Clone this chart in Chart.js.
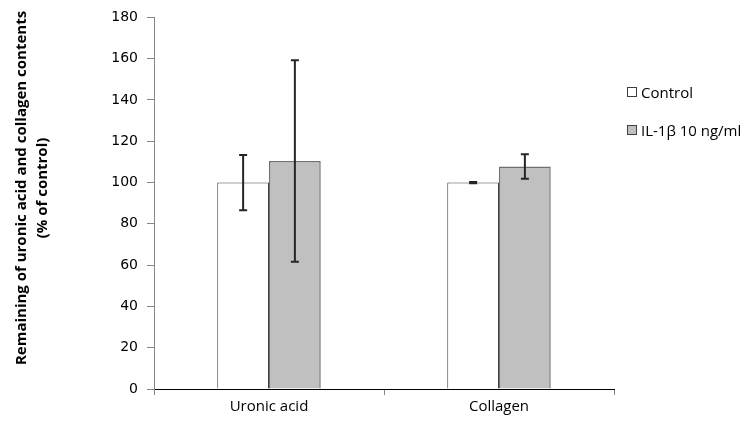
<!DOCTYPE html>
<html>
<head>
<meta charset="utf-8">
<script src="https://cdn.jsdelivr.net/npm/chart.js@4.4.1/dist/chart.umd.min.js"></script>
<style>
  body { margin: 0; background: #fff; }
  #wrap { position: relative; width: 753px; height: 421px; }
  #legend { position: absolute; left: 627px; top: 82px; font: 15px "Open Sans", sans-serif; color: #000; }
  #legend .item { display: flex; align-items: center; height: 20px; margin-bottom: 18px; white-space: nowrap; }
  #legend .box { width: 8px; height: 8px; margin-right: 4px; }
</style>
</head>
<body>
<div id="wrap">
  <canvas id="chart" width="753" height="421"></canvas>
  <div id="legend"></div>
</div>
<script>
const categories = ["Uronic acid", "Collagen"];
const controlValues = [100, 100];
const controlErrors = [13.4, 0.3];
const il1bValues = [110.4, 107.8];
const il1bErrors = [48.8, 5.9];
const yTicks = [0, 20, 40, 60, 80, 100, 120, 140, 160, 180];

const yTitleLines = ["Remaining of uronic acid and collagen contents", "(% of control)"];

// error bars drawn from the value +/- error through the y scale
const errorBars = {
  id: "errorBars",
  afterDatasetsDraw(chart) {
    const ctx = chart.ctx;
    const yScale = chart.scales.y;
    ctx.save();
    ctx.strokeStyle = "#262626";
    ctx.lineWidth = 2;
    chart.data.datasets.forEach((ds, i) => {
      const meta = chart.getDatasetMeta(i);
      meta.data.forEach((bar, j) => {
        const top = yScale.getPixelForValue(ds.data[j] + ds.errors[j]);
        const bot = yScale.getPixelForValue(ds.data[j] - ds.errors[j]);
        const x = bar.x;
        ctx.beginPath();
        ctx.moveTo(x, top);
        ctx.lineTo(x, bot);
        ctx.moveTo(x - 4, top);
        ctx.lineTo(x + 4, top);
        ctx.moveTo(x - 4, bot);
        ctx.lineTo(x + 4, bot);
        ctx.stroke();
      });
    });
    ctx.restore();
  }
};

// two-line rotated y title
const yTitle = {
  id: "yTitle",
  afterDraw(chart) {
    const ctx = chart.ctx;
    ctx.save();
    ctx.translate(22, 188);
    ctx.rotate(-Math.PI / 2);
    ctx.font = 'bold 15px "Open Sans"';
    ctx.fillStyle = "#000";
    ctx.textAlign = "center";
    ctx.textBaseline = "middle";
    ctx.fillText(yTitleLines[0], 0, 0);
    ctx.fillText(yTitleLines[1], 0, 21);
    ctx.restore();
  }
};

const chart = new Chart(document.getElementById("chart"), {
  type: "bar",
  data: {
    labels: categories,
    datasets: [
      {
        label: "Control",
        data: controlValues,
        errors: controlErrors,
        backgroundColor: "#ffffff",
        borderColor: "#404040",
        borderWidth: 1,
      },
      {
        label: "IL-1β 10 ng/ml",
        data: il1bValues,
        errors: il1bErrors,
        backgroundColor: "#c0c0c0",
        borderColor: "#707070",
        borderWidth: 1.5,
      },
    ],
  },
  options: {
    responsive: false,
    animation: false,
    layout: { padding: { top: 17, right: 139, left: 0, bottom: 0 } },
    datasets: { bar: { categoryPercentage: 0.45, barPercentage: 1 } },
    plugins: {
      legend: { display: false },
      tooltip: { enabled: false },
    },
    scales: {
      x: {
        grid: { drawOnChartArea: false, tickLength: 6, color: "#868686" },
        border: { color: "#000000", width: 1 },
        ticks: { color: "#000", padding: 3, font: { family: "Open Sans", size: 15 } },
        afterFit: (scale) => { scale.height = 32; },
      },
      y: {
        min: 0,
        max: 180,
        grid: { drawOnChartArea: false, tickLength: 7, color: "#868686" },
        border: { color: "#868686", width: 1 },
        afterBuildTicks: (scale) => { scale.ticks = yTicks.map((v) => ({ value: v })); },
        ticks: { color: "#000", padding: 9, font: { family: "DejaVu Sans", size: 14 } },
        afterFit: (scale) => { scale.width = 154; },
      },
    },
  },
  plugins: [errorBars, yTitle],
});

// html legend from the datasets
const legendEl = document.getElementById("legend");
chart.data.datasets.forEach((ds) => {
  const item = document.createElement("div");
  item.className = "item";
  const box = document.createElement("span");
  box.className = "box";
  box.style.background = ds.backgroundColor;
  box.style.border = "1px solid #404040";
  const txt = document.createElement("span");
  txt.textContent = ds.label;
  item.appendChild(box);
  item.appendChild(txt);
  legendEl.appendChild(item);
});
</script>
</body>
</html>
